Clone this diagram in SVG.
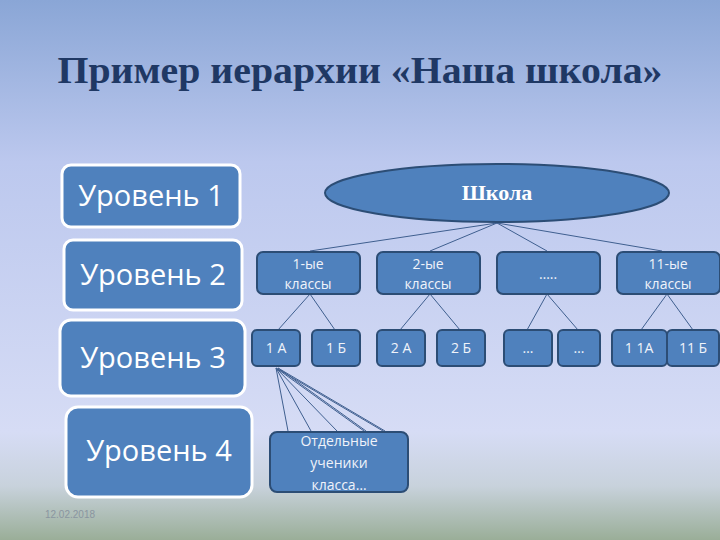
<svg xmlns="http://www.w3.org/2000/svg" width="720" height="540" viewBox="0 0 720 540">
<defs>
<linearGradient id="bg" x1="0" y1="0" x2="0" y2="1">
<stop offset="0" stop-color="#8aa6d6"/>
<stop offset="0.3" stop-color="#bcc8ee"/>
<stop offset="0.8" stop-color="#d6dcf5"/>
<stop offset="0.9" stop-color="#c8d2dc"/>
<stop offset="1" stop-color="#9aae98"/>
</linearGradient>
</defs>
<style>
.lv{fill:#4f81bd;stroke:#fff;stroke-width:3}
.nd{fill:#4f81bd;stroke:#2c4d75;stroke-width:2}
.lt{font-family:"Open Sans","DejaVu Sans",sans-serif;fill:#fff;font-size:29px;text-anchor:middle}
.nt{font-family:"Open Sans","DejaVu Sans",sans-serif;fill:#f0f3fa;font-size:14px;text-anchor:middle}
.ln{stroke:#3f5f8f;stroke-width:1;fill:none}
</style>
<rect width="720" height="540" fill="url(#bg)"/>
<text x="360" y="83" font-family="Liberation Serif,serif" font-size="38" font-weight="bold" fill="#1f3864" text-anchor="middle" textLength="605" lengthAdjust="spacingAndGlyphs">Пример иерархии «Наша школа»</text>
<g id="levels">
<g id="l1"><rect class="lv" x="62" y="165" width="178" height="62" rx="9"/><text class="lt" x="151" y="206">Уровень 1</text></g>
<g id="l2"><rect class="lv" x="64" y="240" width="178" height="70" rx="9"/><text class="lt" x="153" y="285">Уровень 2</text></g>
<g id="l3"><rect class="lv" x="60" y="320" width="185" height="76" rx="11"/><text class="lt" x="153" y="368">Уровень 3</text></g>
<g id="l4"><rect class="lv" x="66" y="407" width="186" height="90" rx="12"/><text class="lt" x="159" y="461">Уровень 4</text></g>
</g>
<g id="connectors">
<path class="ln" d="M497 223L310 251M497 223L430 251M497 223L547 251M497 223L662 251"/>
<path class="ln" d="M310 294L278 330M310 294L335 330M430 294L400 330M430 294L460 330M547 294L527 330M547 294L578 330M667 294L641 330M667 294L693 330"/>
<path class="ln" d="M276 368L288 431M276 368L311 431M276 368L337 431M276 368L364 431M276 368L383 431M278 368L366 431M278 368L385 431"/>
</g>
<g id="school"><ellipse cx="497" cy="193" rx="172" ry="29" fill="#4f81bd" stroke="#2c4d75" stroke-width="2"/><text x="497" y="200" font-family="Liberation Serif,serif" font-size="22" font-weight="bold" fill="#fff" text-anchor="middle">Школа</text></g>
<g id="c1"><rect class="nd" x="257" y="252" width="103" height="42" rx="6"/><text class="nt" x="308" y="269">1-ые</text><text class="nt" x="308" y="289">классы</text></g>
<g id="c2"><rect class="nd" x="377" y="252" width="103" height="42" rx="6"/><text class="nt" x="428" y="269">2-ые</text><text class="nt" x="428" y="289">классы</text></g>
<g id="cdots"><rect class="nd" x="497" y="252" width="103" height="42" rx="6"/><text class="nt" x="548" y="279">…..</text></g>
<g id="c11"><rect class="nd" x="617" y="252" width="103" height="42" rx="6"/><text class="nt" x="668" y="269">11-ые</text><text class="nt" x="668" y="289">классы</text></g>
<g id="n1a"><rect class="nd" x="252" y="330" width="48" height="36" rx="5"/><text class="nt" x="276" y="353">1 А</text></g>
<g id="n1b"><rect class="nd" x="312" y="330" width="48" height="36" rx="5"/><text class="nt" x="336" y="353">1 Б</text></g>
<g id="n2a"><rect class="nd" x="377" y="330" width="48" height="36" rx="5"/><text class="nt" x="401" y="353">2 А</text></g>
<g id="n2b"><rect class="nd" x="437" y="330" width="48" height="36" rx="5"/><text class="nt" x="461" y="353">2 Б</text></g>
<g id="nd1"><rect class="nd" x="504" y="330" width="48" height="36" rx="5"/><text class="nt" x="528" y="353">…</text></g>
<g id="nd2"><rect class="nd" x="558" y="330" width="42" height="36" rx="5"/><text class="nt" x="579" y="353">…</text></g>
<g id="n11a"><rect class="nd" x="612" y="330" width="55" height="36" rx="5"/><text class="nt" x="639" y="353">1 1А</text></g>
<g id="n11b"><rect class="nd" x="667" y="330" width="52" height="36" rx="5"/><text class="nt" x="693" y="353">11 Б</text></g>
<g id="pupils"><rect class="nd" x="270" y="432" width="138" height="60" rx="7"/><text class="nt" x="339" y="446">Отдельные</text><text class="nt" x="339" y="468">ученики</text><text class="nt" x="339" y="490">класса…</text></g>
<text x="70" y="518" font-family="Liberation Sans,sans-serif" font-size="10" fill="#8a95a0" text-anchor="middle">12.02.2018</text>
</svg>
